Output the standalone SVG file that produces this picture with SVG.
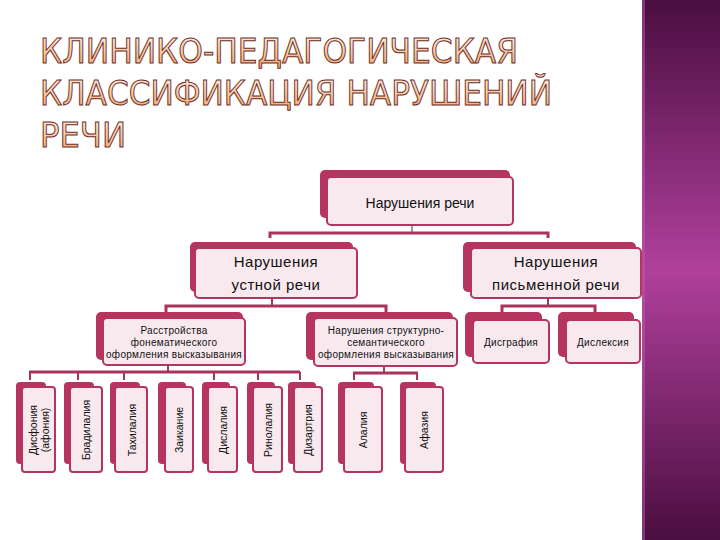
<svg xmlns="http://www.w3.org/2000/svg" width="720" height="540" viewBox="0 0 720 540">
<defs>
<linearGradient id="band" x1="0" y1="0" x2="0" y2="1">
<stop offset="0" stop-color="#4a0e40"/>
<stop offset="0.5" stop-color="#b0409c"/>
<stop offset="1" stop-color="#4a0e40"/>
</linearGradient>
<linearGradient id="ttl" x1="0" y1="0" x2="0" y2="1">
<stop offset="0" stop-color="#fff6ec"/>
<stop offset="1" stop-color="#f0a460"/>
</linearGradient>
<style>
.back{fill:#b5355f;}
.front{fill:#f8e9ef;stroke:#b5355f;stroke-width:2;}
.lbl{font-family:"Liberation Sans",Arial,sans-serif;fill:#111;text-anchor:middle;}
.l1{font-size:14px;}
.l2{font-size:15px;letter-spacing:0.5px;}
.l3{font-size:10px;letter-spacing:0.3px;}
.l4{font-size:10.5px;}
.conn{stroke:#a8345c;fill:none;}
.ttl{font-family:"DejaVu Sans","Liberation Sans",sans-serif;font-size:34px;fill:url(#ttl);stroke:#6e2c2a;stroke-width:1;}
</style>
</defs>
<rect width="720" height="540" fill="#ffffff"/>
<rect x="642" y="0" width="78" height="540" fill="url(#band)"/>
<rect x="642" y="0" width="3" height="540" fill="#c05aae" opacity="0.5"/>

<g id="title">
<text class="ttl" x="40" y="63" textLength="478" lengthAdjust="spacingAndGlyphs">КЛИНИКО-ПЕДАГОГИЧЕСКАЯ</text>
<text class="ttl" x="40" y="105" textLength="512" lengthAdjust="spacingAndGlyphs">КЛАССИФИКАЦИЯ НАРУШЕНИЙ</text>
<text class="ttl" x="40" y="147" textLength="86" lengthAdjust="spacingAndGlyphs">РЕЧИ</text>
</g>

<g id="connectors">
<line class="conn" x1="412" y1="225" x2="412" y2="233" stroke-width="1.5" style="stroke:#777"/>
<polyline class="conn" stroke-width="3" points="270,238 270,233 548,233 548,238"/>
<line class="conn" x1="272" y1="298" x2="272" y2="306" stroke-width="2"/>
<polyline class="conn" stroke-width="3" points="166,312 166,306 386,306 386,312"/>
<line class="conn" x1="548" y1="298" x2="548" y2="306" stroke-width="2"/>
<polyline class="conn" stroke-width="3" points="502,312 502,306 595,306 595,312"/>
<line class="conn" x1="168" y1="365" x2="168" y2="372" stroke-width="2"/>
<line class="conn" x1="29" y1="372" x2="300" y2="372" stroke-width="3"/>
<path class="conn" stroke-width="2" d="M30,372V380M78,372V380M124,372V380M214,372V380M258,372V380M300,372V380"/>
<line class="conn" x1="384" y1="367" x2="384" y2="373" stroke-width="2"/>
<line class="conn" x1="353" y1="373" x2="418" y2="373" stroke-width="3"/>
<path class="conn" stroke-width="2" d="M354,373V380M417,373V380"/>
</g>

<g id="n-root">
<rect class="back" x="320" y="170" width="190" height="48" rx="5"/>
<rect class="front" x="327" y="177" width="186" height="48" rx="4"/>
<text class="lbl l1" x="420" y="208">Нарушения речи</text>
</g>

<g id="n-oral">
<rect class="back" x="190" y="242" width="163" height="50" rx="5"/>
<rect class="front" x="195" y="248" width="162" height="50" rx="4"/>
<text class="lbl l2" x="276" y="267">Нарушения</text>
<text class="lbl l2" x="276" y="290">устной речи</text>
</g>

<g id="n-written">
<rect class="back" x="463" y="242" width="173" height="50" rx="5"/>
<rect class="front" x="471" y="248" width="170" height="50" rx="4"/>
<text class="lbl l2" x="556" y="267">Нарушения</text>
<text class="lbl l2" x="556" y="290">письменной речи</text>
</g>

<g id="n-phon">
<rect class="back" x="96" y="312" width="147" height="48" rx="5"/>
<rect class="front" x="103" y="318" width="142" height="47" rx="4"/>
<text class="lbl l3" x="174" y="334">Расстройства</text>
<text class="lbl l3" x="174" y="346">фонематического</text>
<text class="lbl l3" x="174" y="358">оформления высказывания</text>
</g>

<g id="n-struct">
<rect class="back" x="306" y="312" width="147" height="48" rx="5"/>
<rect class="front" x="314" y="318" width="143" height="48" rx="4"/>
<text class="lbl l3" x="386" y="334">Нарушения структурно-</text>
<text class="lbl l3" x="386" y="346">семантического</text>
<text class="lbl l3" x="386" y="358">оформления высказывания</text>
</g>

<g id="n-dysgraphia">
<rect class="back" x="465" y="312" width="77" height="45" rx="5"/>
<rect class="front" x="473" y="320" width="76" height="43" rx="4"/>
<text class="lbl l3" x="511" y="346">Дисграфия</text>
</g>

<g id="n-dyslexia">
<rect class="back" x="558" y="312" width="76" height="45" rx="5"/>
<rect class="front" x="566" y="320" width="74" height="43" rx="4"/>
<text class="lbl l3" x="603" y="346">Дислексия</text>
</g>

<g id="n-dysphonia">
<rect class="back" x="16" y="382" width="30" height="82" rx="4"/>
<rect class="front" x="22" y="387" width="33" height="85" rx="3"/>
<g transform="translate(38.5,430) rotate(-90)">
<text class="lbl l4" x="0" y="-2">Дисфония</text>
<text class="lbl l4" x="0" y="10">(афония)</text>
</g>
</g>

<g id="n-bradylalia">
<rect class="back" x="64" y="382" width="30" height="82" rx="4"/>
<rect class="front" x="70" y="387" width="32" height="85" rx="3"/>
<text class="lbl l4" transform="translate(86,430) rotate(-90)" y="4">Брадилалия</text>
</g>

<g id="n-tachylalia">
<rect class="back" x="110" y="382" width="30" height="82" rx="4"/>
<rect class="front" x="115" y="387" width="32" height="85" rx="3"/>
<text class="lbl l4" transform="translate(132,430) rotate(-90)" y="4">Тахилалия</text>
</g>

<g id="n-stutter">
<rect class="back" x="158" y="382" width="28" height="82" rx="4"/>
<rect class="front" x="165" y="387" width="28" height="85" rx="3"/>
<text class="lbl l4" transform="translate(179,430) rotate(-90)" y="4">Заикание</text>
</g>

<g id="n-dyslalia">
<rect class="back" x="202" y="382" width="28" height="82" rx="4"/>
<rect class="front" x="208" y="387" width="29" height="85" rx="3"/>
<text class="lbl l4" transform="translate(223,430) rotate(-90)" y="4">Дислалия</text>
</g>

<g id="n-rhinolalia">
<rect class="back" x="247" y="382" width="28" height="82" rx="4"/>
<rect class="front" x="253" y="387" width="29" height="85" rx="3"/>
<text class="lbl l4" transform="translate(267.5,430) rotate(-90)" y="4">Ринолалия</text>
</g>

<g id="n-dysarthria">
<rect class="back" x="288" y="382" width="28" height="82" rx="4"/>
<rect class="front" x="294" y="387" width="28" height="85" rx="3"/>
<text class="lbl l4" transform="translate(308,430) rotate(-90)" y="4">Дизартрия</text>
</g>

<g id="n-alalia">
<rect class="back" x="338" y="382" width="36" height="82" rx="4"/>
<rect class="front" x="344" y="387" width="38" height="85" rx="3"/>
<text class="lbl l4" transform="translate(363,430) rotate(-90)" y="4">Алалия</text>
</g>

<g id="n-aphasia">
<rect class="back" x="400" y="382" width="36" height="82" rx="4"/>
<rect class="front" x="405" y="387" width="38" height="85" rx="3"/>
<text class="lbl l4" transform="translate(424,430) rotate(-90)" y="4">Афазия</text>
</g>
</svg>
